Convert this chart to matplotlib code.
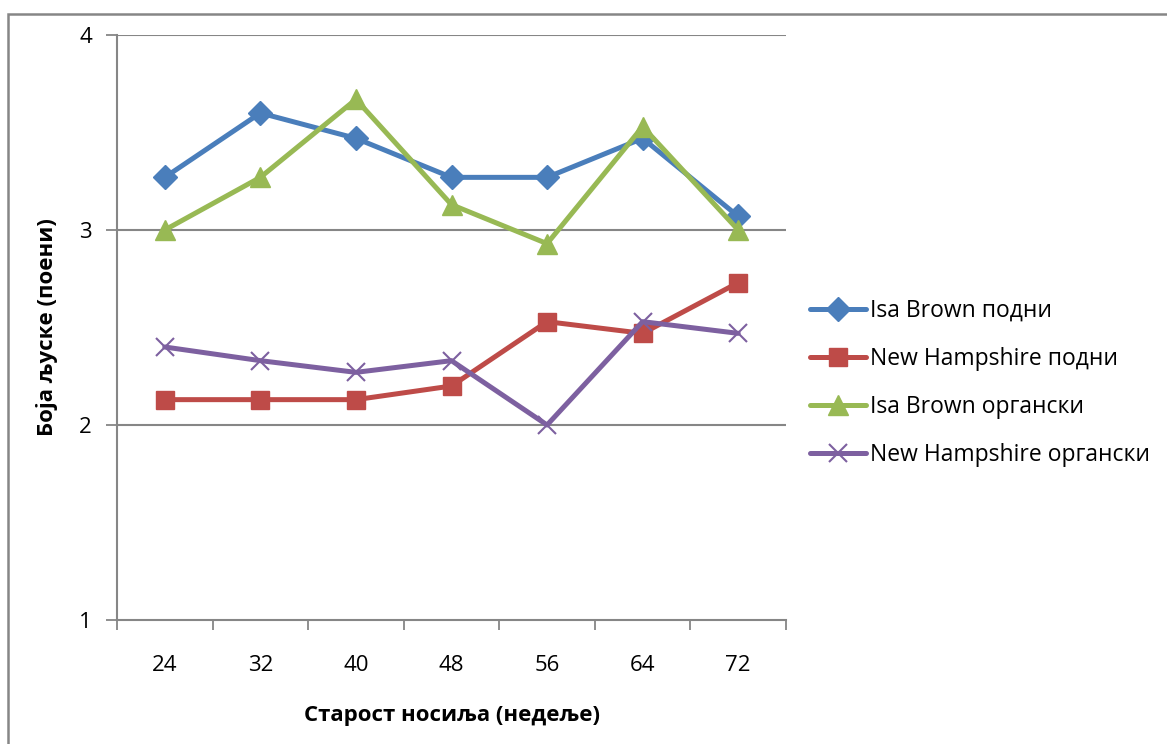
import matplotlib
matplotlib.use("Agg")
import matplotlib.pyplot as plt
from matplotlib.patches import Rectangle

plt.rcParams['font.family'] = ['Open Sans', 'DejaVu Sans']

weeks = ["24", "32", "40", "48", "56", "64", "72"]
isa_floor = [3.27, 3.60, 3.47, 3.27, 3.27, 3.47, 3.07]
nh_floor = [2.13, 2.13, 2.13, 2.20, 2.53, 2.47, 2.73]
isa_organic = [3.00, 3.27, 3.67, 3.13, 2.93, 3.53, 3.00]
nh_organic = [2.40, 2.33, 2.27, 2.33, 2.00, 2.53, 2.47]

series_names = ["Isa Brown подни", "New Hampshire подни",
                "Isa Brown органски", "New Hampshire органски"]
y_ticks = [1, 2, 3, 4]

W, H = 1167, 744
fig = plt.figure(figsize=(W / 100, H / 100), dpi=100)
ax = fig.add_axes([117 / W, (H - 620) / H, (786 - 117) / W, (620 - 35) / H])

grid_c = "#868686"
x = list(range(len(weeks)))

styles = [
    dict(color="#4A7EBB", marker="D", markersize=12),
    dict(color="#BE4B48", marker="s", markersize=13),
    dict(color="#98B954", marker="^", markersize=15),
    dict(color="#7D60A0", marker="x", markersize=13, markeredgewidth=1.5),
]
for vals, name, st in zip([isa_floor, nh_floor, isa_organic, nh_organic], series_names, styles):
    ax.plot(x, vals, linewidth=3.6, label=name, solid_capstyle="round",
            solid_joinstyle="round", **st)

ax.set_xlim(-0.5, len(weeks) - 0.5)
ax.set_ylim(1, 4)
ax.set_yticks(y_ticks)
ax.set_yticklabels([str(v) for v in y_ticks])
ax.set_xticks(x)
ax.set_xticklabels(weeks)
ax.set_xticks([i - 0.5 for i in range(len(weeks) + 1)], minor=True)
ax.tick_params(axis="x", which="major", length=0, pad=25, labelsize=16)
ax.tick_params(axis="x", which="minor", length=7, width=1.3, color=grid_c, direction="out")
ax.tick_params(axis="y", length=8, width=1.3, color=grid_c, direction="out", pad=10, labelsize=16)

for y in y_ticks[1:]:
    ax.axhline(y, color=grid_c, linewidth=1.5, zorder=0)
for s in ["top", "right"]:
    ax.spines[s].set_visible(False)
for s in ["left", "bottom"]:
    ax.spines[s].set_color(grid_c)
    ax.spines[s].set_linewidth(1.5)

ax.set_xlabel("Старост носиља (недеље)", fontsize=16, fontweight="bold", labelpad=21)
ax.set_ylabel("Боја љуске (поени)", fontsize=16, fontweight="bold", labelpad=15)

leg = fig.legend(loc="center left", bbox_to_anchor=(810 / W, (H - 383) / H),
                 frameon=False, fontsize=16.5, handlelength=2.45, handletextpad=0.15,
                 labelspacing=1.05, borderpad=0, borderaxespad=0)

fig.patches.append(Rectangle((8 / W, -0.1), 1.2, (H - 14) / H + 0.1,
                             transform=fig.transFigure, fill=False,
                             edgecolor=grid_c, linewidth=1.8))

fig.savefig("out.png", dpi=100)
